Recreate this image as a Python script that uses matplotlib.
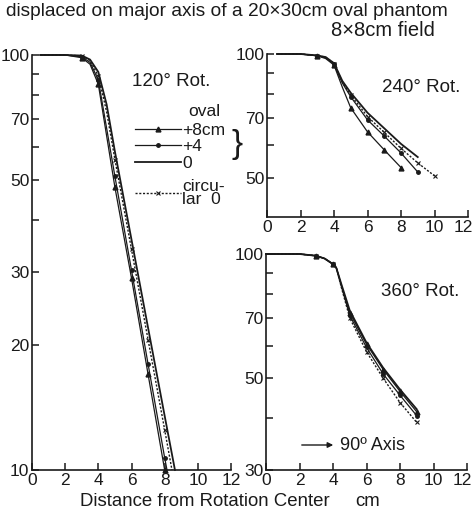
import matplotlib
matplotlib.use("Agg")
import matplotlib.pyplot as plt
import matplotlib.transforms as mtransforms
from matplotlib.lines import Line2D

# relative dose (%) vs distance from rotation center (cm)
# 120 deg rotation
x120_p8 = [0.5, 1, 2, 3, 3.5, 4, 5, 6, 7, 8]
y120_p8 = [100, 100, 100, 98.5, 95, 85, 48, 29, 17, 10]
x120_p4 = [0.5, 1, 2, 3, 3.5, 4, 5, 6, 7, 8, 8.14]
y120_p4 = [100, 100, 100, 99, 96, 87, 51, 30.3, 18, 10.7, 10]
x120_0 = [0.5, 1, 2, 3, 3.5, 4, 4.5, 5, 6, 7, 8, 8.62]
y120_0 = [100, 100, 100, 99.7, 97.5, 91, 76, 58.5, 35.9, 22, 13.5, 10]
x120_c = [0.5, 1, 2, 3, 3.5, 4, 4.5, 5, 6, 7, 8, 8.44]
y120_c = [100, 100, 100, 99.5, 97, 89, 73, 56, 34, 20.6, 12.5, 10]

# 240 deg rotation
x240_p8 = [0.6, 1, 2, 3, 3.5, 4, 4.5, 5, 6, 7, 8]
y240_p8 = [100, 100, 100, 99, 97.5, 94, 83, 74, 64.7, 58.5, 53]
x240_p4 = [0.6, 1, 2, 3, 3.5, 4, 4.5, 5, 6, 7, 8, 9]
y240_p4 = [100, 100, 100, 99, 98, 94.5, 85, 78.7, 69.2, 63.2, 57.5, 51.7]
x240_0 = [0.6, 1, 2, 3, 3.5, 4, 4.5, 5, 6, 7, 8, 9]
y240_0 = [100, 100, 100, 99.2, 98.3, 95, 86, 80.5, 72, 66, 60.5, 56.2]
x240_c = [0.6, 1, 2, 3, 3.5, 4, 4.5, 5, 6, 7, 8, 9, 10]
y240_c = [100, 100, 100, 99.1, 98.2, 94.8, 85.5, 79.5, 70.5, 64.5, 59, 54.4, 50.6]

# 360 deg rotation
x360_p8 = [0, 1, 2, 3, 3.5, 4, 4.2, 4.5, 5, 6, 7, 8, 9]
y360_p8 = [100, 100, 100, 99, 97.5, 94.5, 92.5, 84, 72, 60.5, 52.5, 46.5, 41.5]
x360_p4 = [0, 1, 2, 3, 3.5, 4, 4.2, 4.5, 5, 6, 7, 8, 9]
y360_p4 = [100, 100, 100, 99, 97.5, 94.5, 92.5, 83.5, 71, 59.4, 51.2, 45.5, 40.6]
x360_0 = [0, 1, 2, 3, 3.5, 4, 4.2, 4.5, 5, 6, 7, 8, 9]
y360_0 = [100, 100, 100, 99, 97.5, 94.5, 92.5, 84.5, 73, 61, 53, 47, 42.1]
x360_c = [0, 1, 2, 3, 3.5, 4, 4.2, 4.5, 5, 6, 7, 8, 9]
y360_c = [100, 100, 100, 99, 97.5, 94.5, 92.5, 83, 70, 58, 50, 43.7, 39.1]

xticks = [0, 2, 4, 6, 8, 10, 12]
yt_120 = [10, 20, 30, 40, 50, 60, 70, 80, 90, 100]
yl_120 = ["10", "20", "30", "", "50", "", "70", "", "", "100"]
yt_240 = [50, 60, 70, 80, 90, 100]
yl_240 = ["50", "", "70", "", "", "100"]
yt_360 = [30, 40, 50, 60, 70, 80, 90, 100]
yl_360 = ["30", "", "50", "", "70", "", "", "100"]

plt.rcParams["font.family"] = ["Liberation Sans", "DejaVu Sans"]

W, H = 475, 519
INK = "#1a1a1a"


def box(l, t, r, b):
    return [l / W, 1 - b / H, (r - l) / W, (b - t) / H]


def marks(x):
    return [xi >= 3 and xi == int(xi) for xi in x]


STYLES = [
    dict(ls="-", lw=0.9, marker="^", ms=3.5),
    dict(ls="-", lw=0.9, marker="o", ms=2.5),
    dict(ls="-", lw=1.3, marker=None),
    dict(ls=(0, (1.5, 1.2)), lw=1.0, marker="x", ms=3.5, mew=0.8),
]


def curves(ax, data):
    for (x, y), st in zip(data, STYLES):
        ax.plot(x, y, color=INK, markevery=marks(x), clip_on=False, **st)


def frame(ax, ylo, yt, yl, shift_last=False):
    ax.set_yscale("log")
    ax.set_xlim(0, 12)
    ax.set_ylim(ylo, 100)
    for s in ["top", "right"]:
        ax.spines[s].set_visible(False)
    for s in ["left", "bottom"]:
        ax.spines[s].set_linewidth(1.2)
        ax.spines[s].set_color(INK)
    ax.minorticks_off()
    ax.set_xticks(xticks)
    ax.set_yticks(yt, yl)
    ax.tick_params(direction="in", length=5, width=1.1, color=INK,
                   labelsize=12.5, labelcolor=INK, pad=2)
    if shift_last:
        lab = ax.get_xticklabels()[-1]
        lab.set_transform(lab.get_transform() +
                          mtransforms.ScaledTranslation(-0.05, 0, fig.dpi_scale_trans))


fig = plt.figure(figsize=(W / 100, H / 100), dpi=100)

ax1 = fig.add_axes(box(32, 55, 231, 470))
frame(ax1, 10, yt_120, yl_120)
curves(ax1, [(x120_p8, y120_p8), (x120_p4, y120_p4), (x120_0, y120_0), (x120_c, y120_c)])

ax2 = fig.add_axes(box(267, 54, 468, 217))
frame(ax2, 40.2, yt_240, yl_240, shift_last=True)
curves(ax2, [(x240_p8, y240_p8), (x240_p4, y240_p4), (x240_0, y240_0), (x240_c, y240_c)])

ax3 = fig.add_axes(box(266, 254, 467, 470))
frame(ax3, 30, yt_360, yl_360, shift_last=True)
curves(ax3, [(x360_p8, y360_p8), (x360_p4, y360_p4), (x360_0, y360_0), (x360_c, y360_c)])

# legend in the 120 deg panel (oval rows, then the circular row)
handles = [Line2D([], [], color=INK, **st) for st in STYLES]
leg_kw = dict(loc="upper left", frameon=False, fontsize=12.5, handlelength=2.6,
              handletextpad=0.1, labelspacing=0.06, numpoints=1,
              borderaxespad=0, borderpad=0, labelcolor=INK)
leg1 = ax1.legend(handles[:3], ["+8cm", "+4", "0"], bbox_to_anchor=(0.52, 0.836), **leg_kw)
ax1.add_artist(leg1)
leg2 = ax1.legend(handles[3:], ["circu-\nlar  0"], bbox_to_anchor=(0.52, 0.701), **leg_kw)
for t in leg2.get_texts():
    t.set_linespacing(0.8)


def ftxt(px, py, s, **kw):
    kw.setdefault("color", INK)
    kw.setdefault("va", "center")
    fig.text(px / W, 1 - py / H, s, **kw)


ftxt(188, 112, "oval", fontsize=12.5)
ftxt(231, 144, "}", fontsize=24)
ftxt(132, 81, "120° Rot.", fontsize=13.5)
ftxt(382, 87, "240° Rot.", fontsize=13.5)
ftxt(381, 292, "360° Rot.", fontsize=13.5)
ftxt(340, 445, "90º Axis", fontsize=13)
ax3.annotate("", xy=(336 / W, 1 - 445 / H), xytext=(299 / W, 1 - 445 / H),
             xycoords="figure fraction",
             arrowprops=dict(arrowstyle="-|>", color=INK, lw=1.0, mutation_scale=8))

ftxt(6, 11, "displaced on major axis of a 20×30cm oval phantom", fontsize=13.8)
ftxt(331, 31, "8×8cm field", fontsize=14.5)
ftxt(80, 501, "Distance from Rotation Center", fontsize=13.4)
ftxt(355, 501, "cm", fontsize=13.4)

fig.savefig("out.png", dpi=100, facecolor="white")
